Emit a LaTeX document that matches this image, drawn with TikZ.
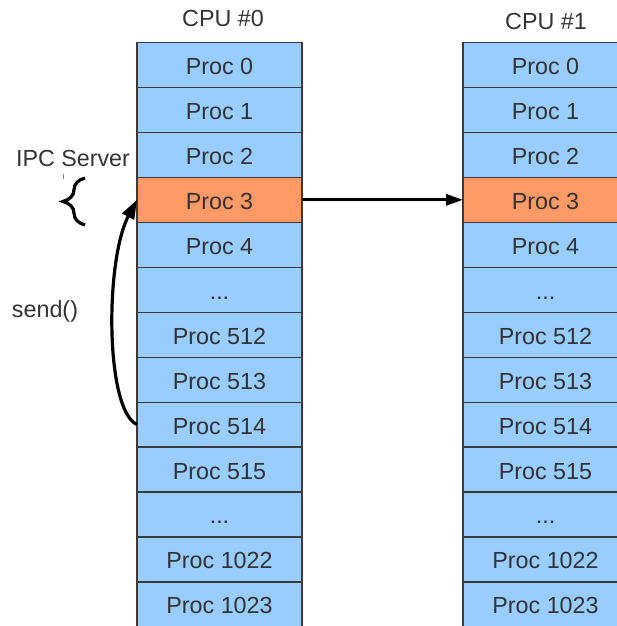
\documentclass[tikz,border=0pt]{standalone}
\usepackage{fontspec}
\setmainfont{Liberation Sans}
\usetikzlibrary{arrows.meta,decorations.pathreplacing}
\definecolor{cellblue}{HTML}{99CCFF}
\definecolor{cellorange}{HTML}{FF9966}
\definecolor{txt}{HTML}{333333}
\definecolor{edge}{HTML}{3A3A3A}
\begin{document}
\begin{tikzpicture}[x=1pt,y=-1pt,
  cell/.style={draw=edge, line width=1.2pt, fill=cellblue, minimum width=165pt,
    minimum height=44.95pt, inner sep=0pt, outer sep=0pt, anchor=north west,
    text=txt, font=\fontsize{23.3}{28}\selectfont, text height=19pt, text depth=0pt},
  hot/.style={cell, fill=cellorange},
  lbl/.style={text=txt, inner sep=0pt, font=\fontsize{23.3}{28}\selectfont},
  conn/.style={line width=3.2pt, black}]
\useasboundingbox (0,0) rectangle (617,626);
\clip (0,0) rectangle (617,626);
% left column (CPU #0)
\node[cell] (l0)  at (137, 42.5) {Proc 0};
\node[cell] (l1)  at (137, 87.45) {Proc 1};
\node[cell] (l2)  at (137, 132.4) {Proc 2};
\node[hot]  (l3)  at (137, 177.35) {Proc 3};
\node[cell] (l4)  at (137, 222.3) {Proc 4};
\node[cell] (l5)  at (137, 267.25) {...};
\node[cell] (l6)  at (137, 312.2) {Proc 512};
\node[cell] (l7)  at (137, 357.15) {Proc 513};
\node[cell] (l8)  at (137, 402.1) {Proc 514};
\node[cell] (l9)  at (137, 447.05) {Proc 515};
\node[cell] (l10) at (137, 492.0) {...};
\node[cell] (l11) at (137, 536.95) {Proc 1022};
\node[cell] (l12) at (137, 581.9) {Proc 1023};
% right column (CPU #1)
\node[cell] (r0)  at (463, 42.5) {Proc 0};
\node[cell] (r1)  at (463, 87.45) {Proc 1};
\node[cell] (r2)  at (463, 132.4) {Proc 2};
\node[hot]  (r3)  at (463, 177.35) {Proc 3};
\node[cell] (r4)  at (463, 222.3) {Proc 4};
\node[cell] (r5)  at (463, 267.25) {...};
\node[cell] (r6)  at (463, 312.2) {Proc 512};
\node[cell] (r7)  at (463, 357.15) {Proc 513};
\node[cell] (r8)  at (463, 402.1) {Proc 514};
\node[cell] (r9)  at (463, 447.05) {Proc 515};
\node[cell] (r10) at (463, 492.0) {...};
\node[cell] (r11) at (463, 536.95) {Proc 1022};
\node[cell] (r12) at (463, 581.9) {Proc 1023};
% labels
\node[lbl] (cpu0) at (223, 18) {CPU \#0};
\node[lbl] (cpu1) at (546, 21) {CPU \#1};
\node[lbl] (ipc)  at (73, 158) {IPC Server};
\node[lbl] (send) at (45, 311) {send()};
% brace
\draw[line width=3.2pt, decorate, decoration={brace, amplitude=22pt}] (85,225) -- (85,178);
\draw[line width=0.8pt, gray] (63,174) -- (63,179);
% connectors
\draw[conn, -{Triangle[length=19pt,width=13pt]}] (l8.west) .. controls (105,410) and (105,260) .. (l3.west);
\draw[conn, -{Triangle[length=17pt,width=11pt]}] (l3.east) -- (r3.west);
\end{tikzpicture}
\end{document}
